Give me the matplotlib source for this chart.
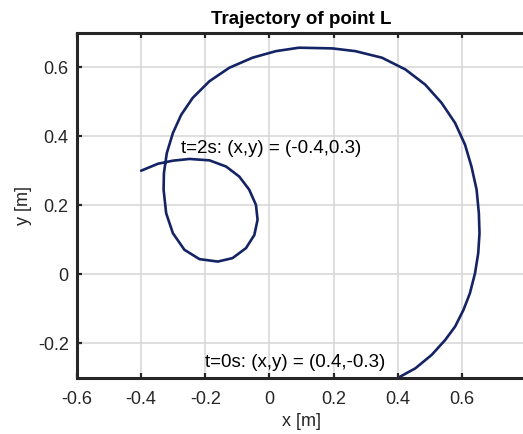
import numpy as np
import matplotlib
matplotlib.use('Agg')
import matplotlib.pyplot as plt

plt.rcParams['font.family'] = ['Liberation Sans', 'DejaVu Sans']

# trajectoire du point L, de t=0s a t=2s
x_L = [0.400, 0.455, 0.506, 0.548, 0.579, 0.605, 0.625, 0.641, 0.651, 0.655,
       0.653, 0.646, 0.630, 0.610, 0.579, 0.537, 0.486, 0.424, 0.351, 0.268,
       0.196, 0.092, 0.020, -0.053, -0.125, -0.187, -0.239, -0.275, -0.301,
       -0.320, -0.329, -0.330, -0.322, -0.301, -0.265, -0.218, -0.161, -0.115,
       -0.073, -0.047, -0.037, -0.042, -0.063, -0.094, -0.135, -0.187, -0.249,
       -0.301, -0.348, -0.400]
y_L = [-0.300, -0.272, -0.233, -0.190, -0.151, -0.103, -0.055, 0.003, 0.061, 0.119,
       0.177, 0.245, 0.312, 0.375, 0.438, 0.496, 0.549, 0.593, 0.627, 0.646,
       0.654, 0.656, 0.646, 0.627, 0.598, 0.559, 0.511, 0.462, 0.409,
       0.351, 0.293, 0.245, 0.177, 0.119, 0.071, 0.044, 0.037, 0.047,
       0.076, 0.114, 0.158, 0.201, 0.245, 0.283, 0.312, 0.330, 0.334,
       0.329, 0.320, 0.300]

t_debut, t_fin = 0, 2
x_ticks = [-0.6, -0.4, -0.2, 0, 0.2, 0.4, 0.6]
y_ticks = [-0.2, 0, 0.2, 0.4, 0.6]

fig = plt.figure(figsize=(5.23, 4.34), dpi=100)
ax = fig.add_axes([77 / 523, 56 / 434, 449 / 523, 345.5 / 434])

ax.plot(x_L, y_L, color='#142364', linewidth=1.9,
        solid_joinstyle='round', solid_capstyle='round')

ax.set_xlim(-0.6, 0.8)
ax.set_ylim(-0.3, 0.7)
ax.set_xticks(x_ticks)
ax.set_xticklabels([f"{v:g}" for v in x_ticks])
ax.set_yticks(y_ticks)
ax.set_yticklabels([f"{v:g}" for v in y_ticks])

ax.grid(True, color='#d6d6d6', linewidth=1.1)
ax.set_axisbelow(True)
for s in ax.spines.values():
    s.set_linewidth(2.2)
    s.set_color('#262626')
ax.spines['right'].set_visible(False)  # bord droit hors de l'image
ax.tick_params(direction='in', length=3.3, width=1.6, color='#262626',
               labelsize=13, labelcolor='#262626', top=True, right=False)
ax.tick_params(axis='x', pad=9)
ax.tick_params(axis='y', pad=6)

ax.set_title('Trajectory of point L', fontsize=13.5, fontweight='bold', pad=6)
ax.set_xlabel('x [m]', fontsize=13, color='#262626', labelpad=4)
ax.set_ylabel('y [m]', fontsize=13, color='#262626', labelpad=4)

ax.text(-0.2, -0.255, f"t={t_debut}s: (x,y) = ({x_L[0]:g},{y_L[0]:g})",
        fontsize=13.5, va='center', ha='left')
ax.text(-0.277, 0.365, f"t={t_fin}s: (x,y) = ({x_L[-1]:g},{y_L[-1]:g})",
        fontsize=13.5, va='center', ha='left')

fig.savefig('out.png', dpi=100)
